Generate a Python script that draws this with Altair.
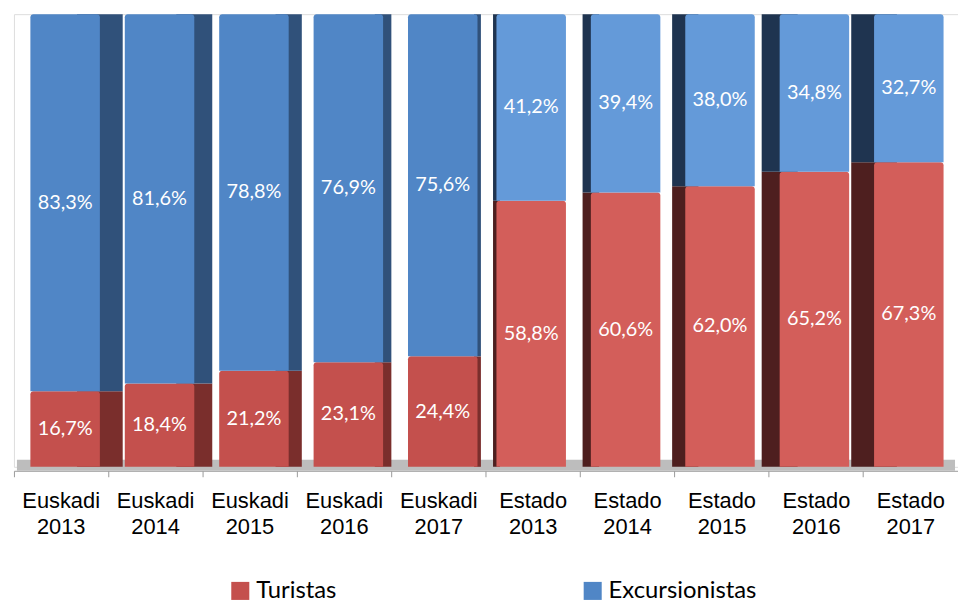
import altair as alt
import pandas as pd

categories = ["Euskadi 2013", "Euskadi 2014", "Euskadi 2015", "Euskadi 2016", "Euskadi 2017",
              "Estado 2013", "Estado 2014", "Estado 2015", "Estado 2016", "Estado 2017"]
turistas = [16.7, 18.4, 21.2, 23.1, 24.4, 58.8, 60.6, 62.0, 65.2, 67.3]
excursionistas = [83.3, 81.6, 78.8, 76.9, 75.6, 41.2, 39.4, 38.0, 34.8, 32.7]
series = ["Turistas", "Excursionistas"]

rows = []
for i, cat in enumerate(categories):
    region = cat.split(" ")[0]
    depth = abs(i - 4.5)
    for k, (s, vals) in enumerate(zip(series, [turistas, excursionistas])):
        v = vals[i]
        rows.append({"cat": cat, "serie": s, "value": v, "ord": k, "region": region,
                     "depth": depth, "label": f"{v:.1f}".replace(".", ",") + "%"})
df = pd.DataFrame(rows)

FONT = "Lato"
W, H = 951, 456

x = alt.X("cat:N", sort=categories, title=None,
          scale=alt.Scale(paddingInner=0, paddingOuter=0),
          axis=alt.Axis(labelExpr="split(datum.label, ' ')", labelAngle=0,
                        labelFont="Liberation Sans", labelFontSize=22, labelColor="#000000",
                        labelLineHeight=26.5, labelPadding=14, labelBaseline="top",
                        domainColor="#9A9A9A", tickColor="#9A9A9A", tickSize=6,
                        offset=4, bandPosition=0))
y = alt.Y("y0:Q", axis=None, scale=alt.Scale(domain=[0, 1], nice=False, zero=True))
y2 = alt.Y2("y1:Q")

base = alt.Chart(df).transform_stack(
    stack="value", groupby=["cat"], as_=["y0", "y1"], offset="normalize",
    sort=[alt.SortField("ord", order="ascending")]
).transform_calculate(mid="(datum.y0 + datum.y1) / 2")

floor = alt.Chart(pd.DataFrame({"f": [0]})).mark_rect(color="#BDBDBD").encode(
    x=alt.value(3), x2=alt.value(W - 3), y=alt.value(H - 7), y2=alt.value(H + 4))


def side_layer(region, offset, colors):
    return base.transform_filter(alt.datum.region == region).mark_bar(xOffset=offset).encode(
        x=x, y=y, y2=y2,
        size=alt.Size("depth:Q", legend=None, scale=alt.Scale(domain=[0, 4.5], range=[2, 46])),
        color=alt.Color("serie:N", scale=alt.Scale(domain=series, range=colors), legend=None),
    )


side_eus = side_layer("Euskadi", 39, ["#7A2E2C", "#30517A"])
side_est = side_layer("Estado", -37, ["#4E1F1F", "#1F3450"])

front_eus = base.transform_filter(alt.datum.region == "Euskadi").mark_bar(
    size=70, xOffset=4, cornerRadiusTopLeft=3, cornerRadiusTopRight=3).encode(
    x=x, y=y, y2=y2,
    color=alt.Color("serie:N", scale=alt.Scale(domain=series, range=["#C4504D", "#5086C6"]),
                    legend=alt.Legend(title=None, orient="none", legendX=216, legendY=569,
                                      direction="horizontal", columns=2, columnPadding=246,
                                      symbolType="square", symbolSize=330, symbolStrokeWidth=0,
                                      labelFont=FONT, labelFontSize=24, labelColor="#000000",
                                      labelOffset=4, padding=0)),
)
front_est = base.transform_filter(alt.datum.region == "Estado").mark_bar(
    size=70, xOffset=-2, cornerRadiusTopLeft=3, cornerRadiusTopRight=3).encode(
    x=x, y=y, y2=y2,
    color=alt.Color("serie:N", scale=alt.Scale(domain=series, range=["#D35E5A", "#649AD9"]),
                    legend=None),
)

labels_eus = base.transform_filter(alt.datum.region == "Euskadi").mark_text(
    font=FONT, fontSize=20, color="white", align="center", baseline="middle", dx=4).encode(
    x=x, y=alt.Y("mid:Q", axis=None, scale=alt.Scale(domain=[0, 1], nice=False)),
    text="label:N",
)
labels_est = base.transform_filter(alt.datum.region == "Estado").mark_text(
    font=FONT, fontSize=20, color="white", align="center", baseline="middle", dx=-2).encode(
    x=x, y=alt.Y("mid:Q", axis=None, scale=alt.Scale(domain=[0, 1], nice=False)),
    text="label:N",
)

chart = alt.layer(floor, side_eus, side_est, front_eus, front_est, labels_eus, labels_est).resolve_scale(
    color="independent", size="independent"
).properties(
    width=W, height=H, padding={"left": 5, "top": 4, "right": 0, "bottom": 0}
).configure_view(stroke=None).configure(background="white")

chart.save("out.html", embed_options={"renderer": "svg", "actions": False})
